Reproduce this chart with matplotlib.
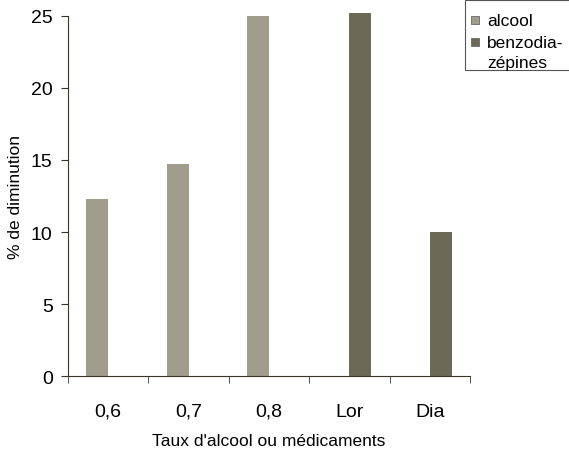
import numpy as np
import matplotlib.pyplot as plt
from matplotlib.patches import Rectangle

plt.rcParams['font.family'] = ['Liberation Sans', 'DejaVu Sans']

categories = ['0,6', '0,7', '0,8', 'Lor', 'Dia']
alcool = [12.3, 14.7, 25.0, np.nan, np.nan]
benzo = [np.nan, np.nan, np.nan, 25.2, 10.0]
series_names = ['alcool', 'benzodia-\nzépines']
series_colors = ['#a09d8d', '#6c6a57']

W, H = 569, 456
fig = plt.figure(figsize=(W / 100, H / 100), dpi=100)
ax = fig.add_axes([0.1195, 0.173, 0.7065, 0.79])

x = np.arange(len(categories))
w = 0.27
b1 = ax.bar(x - w / 2, alcool, w, color=series_colors[0])
b2 = ax.bar(x + w / 2, benzo, w, color=series_colors[1])
for p in list(b1) + list(b2):
    p.set_clip_on(False)

axis_col = '#3b3527'
for s in ['top', 'right']:
    ax.spines[s].set_visible(False)
for s in ['left', 'bottom']:
    ax.spines[s].set_color(axis_col)

ax.set_xlim(-0.5, 4.5)
ax.set_ylim(0, 25)
ax.set_yticks([0, 5, 10, 15, 20, 25])
ax.set_xticks(x)
ax.set_xticklabels(categories)
ax.set_xticks(np.arange(-0.5, 5, 1), minor=True)
ax.tick_params(axis='x', which='major', length=0, pad=19, labelsize=14)
ax.tick_params(axis='x', which='minor', length=5, color=axis_col)
ax.tick_params(axis='y', length=5, color=axis_col, labelsize=14, pad=6)

ax.set_xlabel("Taux d'alcool ou médicaments", fontsize=12.5, labelpad=10)
ax.set_ylabel('% de diminution', fontsize=12.5, labelpad=6)


# legend drawn by hand (pixel positions from top-left)
def fx(px):
    return px / W


def fy(py):
    return 1 - py / H


fig.add_artist(Rectangle((fx(465), fy(71)), fx(110), 70 / H, transform=fig.transFigure,
                         facecolor='white', edgecolor='#555555', linewidth=0.8))
for i, (name, col) in enumerate(zip(series_names, series_colors)):
    cy = 21 + 22 * i
    fig.add_artist(Rectangle((fx(471), fy(cy + 4)), 8 / W, 8 / H, transform=fig.transFigure,
                             facecolor=col, edgecolor='#6a6a6a', linewidth=0.6))
    fig.text(fx(487), fy(cy - 7), name, fontsize=12.5, va='top', ha='left',
             linespacing=1.4)

fig.savefig('out.png', dpi=100)
